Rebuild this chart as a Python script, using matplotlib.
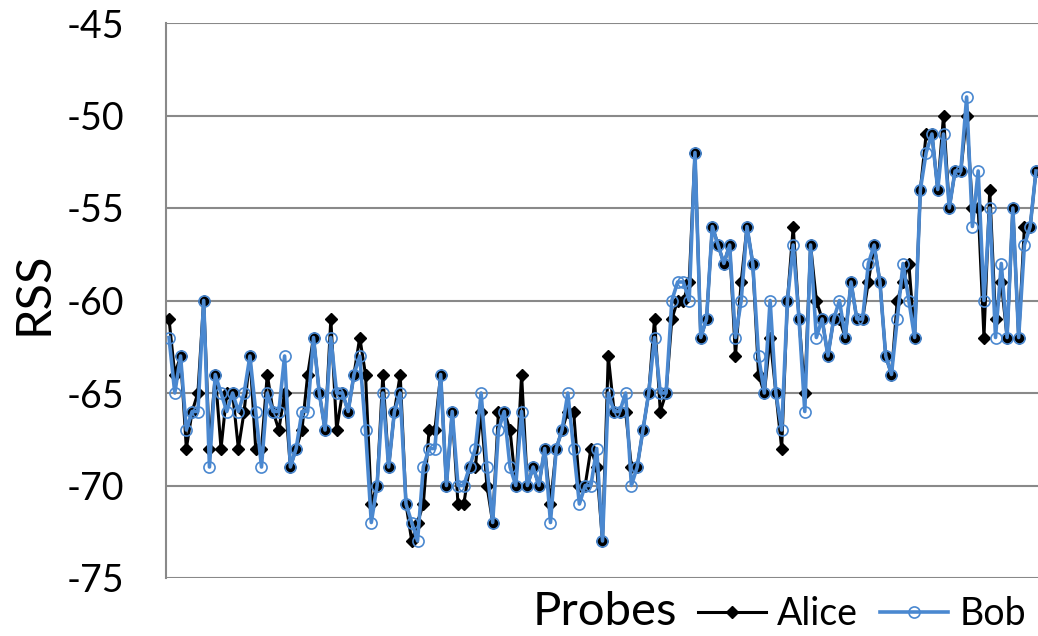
import numpy as np
import matplotlib
matplotlib.use("Agg")
import matplotlib.pyplot as plt

plt.rcParams["font.family"] = ["Lato", "DejaVu Sans"]

# RSS per probe
alice = [-61, -64, -63, -68, -66, -65, -60, -68, -64, -68,
         -65, -65, -68, -66, -63, -68, -68, -64, -66, -67,
         -65, -69, -68, -67, -64, -62, -65, -67, -61, -67,
         -65, -66, -64, -62, -64, -71, -70, -64, -69, -66,
         -64, -71, -73, -72, -71, -67, -67, -64, -70, -66,
         -71, -71, -69, -69, -66, -70, -72, -66, -66, -67,
         -70, -64, -70, -69, -70, -68, -71, -68, -67, -66,
         -66, -70, -70, -68, -69, -73, -63, -66, -66, -66,
         -69, -69, -67, -65, -61, -66, -65, -61, -60, -60,
         -59, -52, -62, -61, -56, -57, -58, -57, -63, -59,
         -56, -58, -64, -65, -62, -65, -68, -60, -56, -61,
         -65, -57, -60, -61, -63, -61, -61, -62, -59, -61,
         -61, -59, -57, -59, -63, -64, -60, -59, -58, -62,
         -54, -51, -51, -54, -50, -55, -53, -53, -50, -55,
         -55, -62, -54, -61, -59, -62, -55, -62, -56, -56,
         -53]
bob = [-62, -65, -63, -67, -66, -66, -60, -69, -64, -65,
       -66, -65, -66, -65, -63, -66, -69, -65, -66, -66,
       -63, -69, -68, -66, -66, -62, -65, -67, -62, -65,
       -65, -66, -64, -63, -67, -72, -70, -65, -69, -66,
       -65, -71, -72, -73, -69, -68, -68, -64, -70, -66,
       -70, -70, -69, -68, -65, -69, -72, -67, -66, -69,
       -70, -66, -70, -69, -70, -68, -72, -68, -67, -65,
       -68, -71, -70, -70, -68, -73, -65, -66, -66, -65,
       -70, -69, -67, -65, -62, -65, -65, -60, -59, -59,
       -60, -52, -62, -61, -56, -57, -58, -57, -62, -60,
       -56, -58, -63, -65, -60, -65, -67, -60, -57, -61,
       -66, -57, -62, -61, -63, -61, -60, -62, -59, -61,
       -61, -58, -57, -59, -63, -64, -61, -58, -60, -62,
       -54, -52, -51, -54, -51, -55, -53, -53, -49, -56,
       -53, -60, -55, -62, -58, -62, -55, -62, -57, -56,
       -53]

yticks = [-75, -70, -65, -60, -55, -50, -45]

x = np.arange(len(alice))
grid_col = "#898989"
blue = "#4A88D0"

fig = plt.figure(figsize=(10.38, 6.36), dpi=100)
ax = fig.add_axes([166 / 1038, 1 - 578 / 636, 1 - 166 / 1038, (578 - 23) / 636])

ax.plot(x, alice, color="black", lw=2.2, marker="D", ms=6.3, label="Alice", zorder=3)
ax.plot(x, bob, color=blue, lw=2.6, marker="o", ms=8, mfc="none", mec=blue,
        mew=1.2, label="Bob", zorder=4)

ax.set_xlim(-0.52, 150.35)
ax.set_ylim(-75, -45)
ax.set_yticks(yticks)
ax.set_yticklabels([str(v) for v in yticks], fontsize=27)
ax.set_xticks([])
ax.tick_params(axis="y", length=0, pad=30)
ax.yaxis.grid(True, color=grid_col, lw=1.5)
ax.set_axisbelow(True)
for s in ["top", "right", "bottom"]:
    ax.spines[s].set_visible(False)
ax.spines["left"].set_color(grid_col)
ax.spines["left"].set_linewidth(1.5)
ax.patch.set_alpha(0)

fig.text(0.032, (636 - 293) / 636, "RSS", rotation=90, fontsize=35,
         ha="center", va="center")
fig.text(605 / 1038, (636 - 612) / 636, "Probes", fontsize=34,
         ha="center", va="center")

leg = fig.legend(loc="center", bbox_to_anchor=(862 / 1038, (636 - 614) / 636),
                 ncol=2, frameon=False, fontsize=27, handlelength=1.8,
                 handletextpad=0.3, columnspacing=0.6, borderpad=0)

fig.savefig("out.png", dpi=100)
